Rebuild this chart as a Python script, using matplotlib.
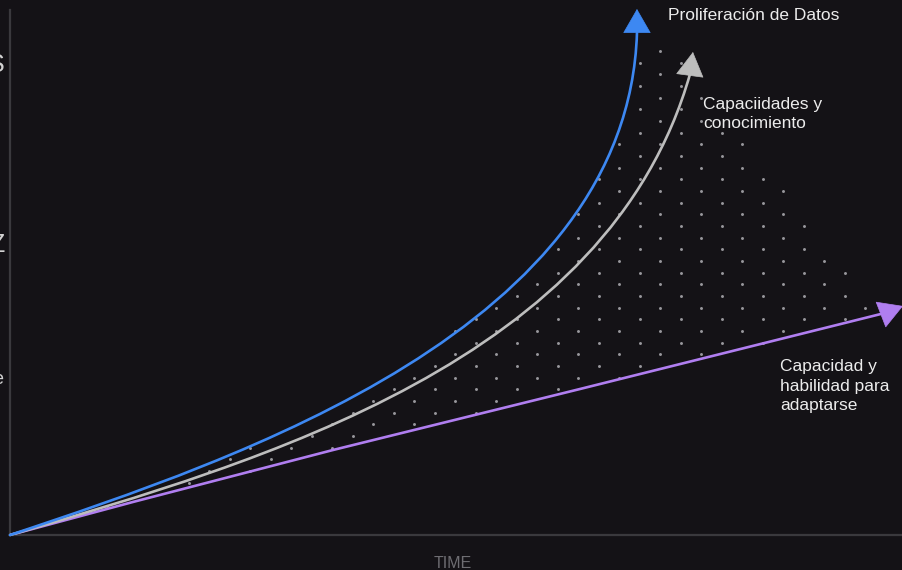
import numpy as np
import matplotlib
matplotlib.use('Agg')
import matplotlib.pyplot as plt
from matplotlib.path import Path
from matplotlib.patches import PathPatch

plt.rcParams['font.family'] = ['Liberation Sans', 'DejaVu Sans']

# data to plot (time 0-100, level 0-100)
blue_x = [0, 6.38, 13.77, 21.28, 28.78, 36.17, 41.43, 48.15, 54.87, 59.35, 63.05, 66.07, 67.97, 69.43, 70.21]
blue_y = [0, 3.62, 8.0, 12.95, 18.10, 24.0, 29.52, 37.14, 45.52, 51.81, 60.0, 68.95, 76.57, 86.10, 95.62]
blue_tip = (70.21, 100.19)

gray_x = [0, 13.77, 21.28, 28.78, 36.17, 41.43, 45.91, 53.42, 59.35, 63.83, 67.53, 70.55, 73.12, 75.03, 76.15]
gray_y = [0, 7.05, 11.05, 15.62, 21.33, 25.33, 29.14, 37.52, 44.76, 51.81, 58.67, 66.29, 75.24, 82.86, 87.81]
gray_tip = (76.48, 92.0)

purple_x = [0, 13.77, 36.17, 63.83, 97.98]
purple_y = [0, 6.29, 16.19, 27.81, 42.29]
purple_tip = (100.0, 43.62)

labels = ['Proliferación de Datos', 'Capaciidades y\nconocimiento', 'Capacidad y\nhabilidad para\nadaptarse']
label_pos = [(73.68, 98.86), (77.60, 80.19), (86.23, 28.38)]

bg = '#141216'
c_blue = '#3d88f2'
c_gray = '#bdbdbd'
c_purple = '#b07ef0'


def fit_bezier(xs, ys, n_iter=40):
    # least squares cubic bezier through the read points, ends fixed
    q = np.column_stack([xs, ys]).astype(float)
    q[:, 1] *= 5.25 / 8.93  # work in screen-like proportions
    p0, p3 = q[0], q[-1]
    d = np.r_[0, np.cumsum(np.hypot(*np.diff(q, axis=0).T))]
    t = d / d[-1]
    for _ in range(n_iter):
        b0 = (1 - t) ** 3
        b1 = 3 * (1 - t) ** 2 * t
        b2 = 3 * (1 - t) * t ** 2
        b3 = t ** 3
        rhs = q - np.outer(b0, p0) - np.outer(b3, p3)
        sol = np.linalg.lstsq(np.column_stack([b1, b2]), rhs, rcond=None)[0]
        p1, p2 = sol
        B = np.outer(b0, p0) + np.outer(b1, p1) + np.outer(b2, p2) + np.outer(b3, p3)
        dB = (np.outer(3 * (1 - t) ** 2, p1 - p0) + np.outer(6 * (1 - t) * t, p2 - p1)
              + np.outer(3 * t ** 2, p3 - p2))
        ddB = np.outer(6 * (1 - t), p2 - 2 * p1 + p0) + np.outer(6 * t, p3 - 2 * p2 + p1)
        diff = B - q
        num = (diff * dB).sum(1)
        den = (dB * dB).sum(1) + (diff * ddB).sum(1)
        den[den == 0] = 1
        t = np.clip(t - num / den, 0, 1)
        t[0], t[-1] = 0, 1
    ctrl = np.array([p0, p1, p2, p3])
    ctrl[:, 1] /= 5.25 / 8.93
    return ctrl


fig = plt.figure(figsize=(9.03, 5.70), dpi=100)
fig.patch.set_facecolor(bg)
ax = fig.add_axes([10 / 903, 35 / 570, 893 / 903, 525 / 570])
ax.set_facecolor(bg)
ax.set_xlim(0, 100)
ax.set_ylim(0, 100)
ax.set_xticks([])
ax.set_yticks([])
for s in ['top', 'right']:
    ax.spines[s].set_visible(False)
for s in ['left', 'bottom']:
    ax.spines[s].set_color('#3a393d')
    ax.spines[s].set_linewidth(1.6)

# dotted gap between data growth and ability to adapt
dot_x0, dot_y0 = 72.79, 92.19
dot_dx, dot_dy = 4.591, 2.222
pts = []
for k in range(0, 42):
    y = dot_y0 - k * dot_dy
    for j in range(-17, 7):
        x = dot_x0 - (k % 2) * dot_dx / 2 + j * dot_dx
        pts.append((x, y))
pts = np.array(pts)
poly = list(zip(blue_x, blue_y)) + [blue_tip] + list(zip(purple_x, purple_y))[::-1]
inside = Path(poly).contains_points(pts)
ax.scatter(pts[inside, 0], pts[inside, 1], s=4.5, color='#98979c', lw=0, zorder=1)

# purple is near straight, the other two are smooth curves
ax.plot(purple_x, purple_y, color=c_purple, lw=1.9, solid_capstyle='round', zorder=3)
for xs, ys, c in [(gray_x, gray_y, c_gray), (blue_x, blue_y, c_blue)]:
    ctrl = fit_bezier(xs, ys)
    path = Path(ctrl, [Path.MOVETO, Path.CURVE4, Path.CURVE4, Path.CURVE4])
    ax.add_patch(PathPatch(path, fc='none', ec=c, lw=1.9, capstyle='round',
                           zorder=3, clip_on=False))

for xs, ys, tip, c in [(purple_x, purple_y, purple_tip, c_purple),
                       (gray_x, gray_y, gray_tip, c_gray),
                       (blue_x, blue_y, blue_tip, c_blue)]:
    ax.annotate('', xy=tip, xytext=(xs[-1], ys[-1]), annotation_clip=False,
                arrowprops=dict(arrowstyle='-|>,head_length=1.65,head_width=0.95',
                                mutation_scale=10, color=c, lw=0.5,
                                shrinkA=0, shrinkB=0), zorder=4)

for txt, (x, y) in zip(labels, label_pos):
    ax.text(x, y, txt, color='#ececec', fontsize=12.5, ha='left', va='center',
            linespacing=1.4, zorder=5, clip_on=False)

ax.text(0.496, -28 / 525, 'TIME', color='#6e6d72', fontsize=11.5,
        ha='center', va='center', transform=ax.transAxes)

# clipped letters at the left edge
fig.text(5 / 903, 1 - 65 / 570, 'S', color='#d2d2d2', fontsize=18, ha='right', va='center')
fig.text(4 / 903, 1 - 245 / 570, 'Z', color='#d2d2d2', fontsize=18, ha='right', va='center')
fig.text(3 / 903, 1 - 379 / 570, 'e', color='#d2d2d2', fontsize=13, ha='right', va='center')

fig.savefig('out.png', dpi=100, facecolor=bg)
